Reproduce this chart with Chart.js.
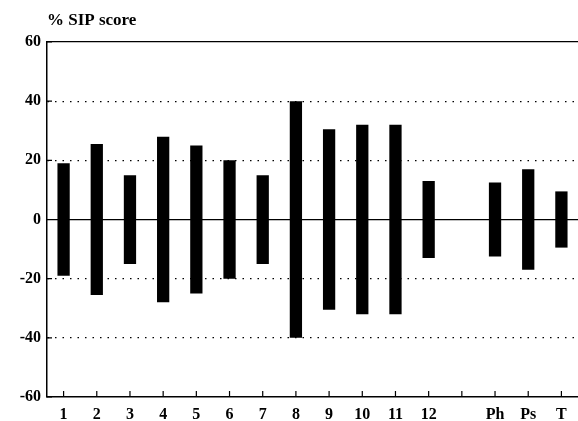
<!DOCTYPE html>
<html>
<head>
<meta charset="utf-8">
<script src="https://cdn.jsdelivr.net/npm/chart.js@4/dist/chart.umd.min.js"></script>
<style>
  html, body { margin: 0; padding: 0; background: #fff; }
  #wrap { width: 578px; height: 421px; }
</style>
</head>
<body>
<div id="wrap"><canvas id="sipChart" width="578" height="421"></canvas></div>
<script>
// categorias (hueco vacio entre 12 y Ph)
const etiquetas = ['1', '2', '3', '4', '5', '6', '7', '8', '9', '10', '11', '12', '', 'Ph', 'Ps', 'T'];
// semi-amplitud de cada barra (+/- % SIP score)
const valores = [19, 25.5, 15, 28, 25, 20, 15, 40, 30.5, 32, 32, 13, null, 12.5, 17, 9.5];
const ticksY = [-60, -40, -20, 0, 20, 40, 60];

const serif = '"Liberation Serif", "DejaVu Serif", serif';

// barras flotantes de -v a +v
const datos = valores.map(v => v === null ? null : [-v, v]);

// marcas cortas hacia dentro en los ejes
const marcasEjes = {
    id: 'marcasEjes',
    afterDatasetsDraw(chart) {
        const ctx = chart.ctx;
        const x = chart.scales.x;
        const y = chart.scales.y;
        const area = chart.chartArea;
        ctx.save();
        ctx.strokeStyle = '#000';
        ctx.lineWidth = 1.2;
        ctx.beginPath();
        for (let i = 0; i < etiquetas.length; i++) {
            const px = x.getPixelForTick(i);
            ctx.moveTo(px, area.bottom);
            ctx.lineTo(px, area.bottom - 6);
        }
        ticksY.forEach(v => {
            const py = y.getPixelForValue(v);
            ctx.moveTo(area.left, py);
            ctx.lineTo(area.left + 5, py);
        });
        ctx.stroke();
        ctx.restore();
    }
};

const ctx = document.getElementById('sipChart').getContext('2d');
new Chart(ctx, {
    type: 'bar',
    data: {
        labels: etiquetas,
        datasets: [{
            data: datos,
            backgroundColor: '#000',
            borderWidth: 0,
            barPercentage: 0.37,
            categoryPercentage: 1
        }]
    },
    options: {
        responsive: false,
        animation: false,
        layout: { padding: { top: 10, right: 0, left: 0, bottom: 0 } },
        plugins: {
            legend: { display: false },
            tooltip: { enabled: false },
            title: {
                display: true,
                text: '% SIP score',
                align: 'start',
                fullSize: false,
                color: '#000',
                font: { family: serif, size: 17, weight: 'bold' },
                padding: { top: 0, bottom: 11.6 }
            }
        },
        scales: {
            x: {
                grid: { display: false },
                border: { display: true, color: '#000', width: 1.5 },
                ticks: {
                    color: '#000',
                    font: { family: serif, size: 16, weight: 'bold' },
                    padding: 0,
                    maxRotation: 0,
                    autoSkip: false
                },
                afterFit(scale) { scale.height = 24; }
            },
            y: {
                min: -60,
                max: 60,
                afterBuildTicks(scale) { scale.ticks = ticksY.map(v => ({ value: v })); },
                grid: {
                    drawTicks: false,
                    color: c => (Math.abs(c.tick.value) === 20 || Math.abs(c.tick.value) === 40) ? '#000' : 'rgba(0,0,0,0)',
                    lineWidth: 1.2
                },
                border: { display: true, color: '#000', width: 1.5, dash: [1.5, 6] },
                ticks: {
                    color: '#000',
                    font: { family: serif, size: 16, weight: 'bold' },
                    padding: 6
                },
                afterFit(scale) { scale.width = 47; }
            },
            y2: {
                position: 'left',
                min: -60,
                max: 60,
                afterBuildTicks(scale) { scale.ticks = [{ value: 0 }, { value: 60 }]; },
                grid: { drawTicks: false, color: '#000', lineWidth: 1.3 },
                border: { display: false },
                ticks: { display: false },
                afterFit(scale) { scale.width = 0; }
            }
        }
    },
    plugins: [marcasEjes]
});
</script>
</body>
</html>
